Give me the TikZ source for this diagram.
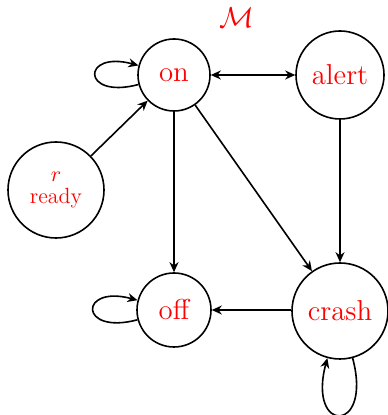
\documentclass[tikz,border=0pt]{standalone}
\usetikzlibrary{arrows.meta}
\begin{document}
\begin{tikzpicture}[x=0.5pt,y=0.5pt,>={Stealth[length=5pt,width=4.5pt,inset=1.6pt]},thick,line join=round]
	\tikzset{state/.style={circle,draw,text=red,font=\Large,inner sep=2pt,minimum size=36pt}}
	\useasboundingbox (0,0) rectangle (387,415);
	\node[state] (on) at (174,340) {on};
	\node[state,minimum size=44pt] (alert) at (340,340) {alert};
	\node[state,minimum size=48pt,align=center,font=\fontsize{11}{11}\selectfont] (ready) at (56,225) {$r$\\ready};
	\node[state,minimum size=37pt] (off) at (174,105) {off};
	\node[state,minimum size=48pt] (crash) at (340,104) {crash};
	\node[text=red,font=\Large] (title) at (237,397) {$\mathcal{M}$};
	\draw[->] (on) to[loop left] (on);
	\draw[->] (off) to[loop left] (off);
	\draw[->] (crash) to[loop below] (crash);
	\draw[<->] (on) -- (alert);
	\draw[->] (ready) -- (on);
	\draw[->] (on) -- (off);
	\draw[->] (on) -- (crash);
	\draw[->] (alert) -- (crash);
	\draw[->] (crash.west |- off) -- (off);
\end{tikzpicture}
\end{document}
